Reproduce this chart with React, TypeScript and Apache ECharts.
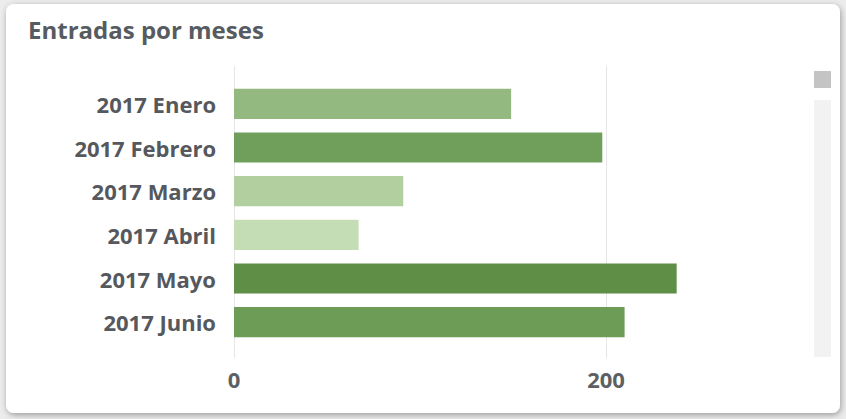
import React, { useEffect, useRef } from "react";
import * as echarts from "echarts";

const categories = ["2017 Enero", "2017 Febrero", "2017 Marzo", "2017 Abril", "2017 Mayo", "2017 Junio"];
const values = [149, 198, 91, 67, 238, 210];
const barColors = ["#93b981", "#6f9f5a", "#b2d09f", "#c5ddb5", "#5f8f47", "#6d9c57"];
const xTicks = [0, 200];

export default function App() {
  const ref = useRef<HTMLDivElement>(null);
  useEffect(() => {
    const chart = echarts.init(ref.current!, null, { renderer: "svg" });
    const font = "'Open Sans', 'Noto Sans', sans-serif";
    chart.setOption({
      animation: false,
      backgroundColor: "#ececec",
      graphic: [
        {
          type: "rect",
          shape: { x: 6, y: 4, width: 834, height: 409, r: 8 },
          style: { fill: "#ffffff", shadowBlur: 6, shadowColor: "rgba(0,0,0,0.35)", shadowOffsetX: 1, shadowOffsetY: 2 },
          z: -10,
        },
        {
          type: "text",
          left: 28,
          top: 17,
          style: { text: "Entradas por meses", fill: "#565b61", font: `bold 24px ${font}` },
        },
        {
          type: "rect",
          shape: { x: 814, y: 100, width: 17, height: 257 },
          style: { fill: "#f2f2f2" },
        },
        {
          type: "rect",
          shape: { x: 814, y: 71, width: 17, height: 17 },
          style: { fill: "#c4c4c4" },
        },
      ],
      grid: [
        { left: 234, right: 240, top: 82, bottom: 75, containLabel: false },
        { left: 234, right: 240, top: 66, bottom: 61, containLabel: false },
      ],
      xAxis: [
        {
          type: "value",
          gridIndex: 0,
          min: 0,
          max: 200,
          interval: 200,
          axisLine: { show: false },
          axisTick: { show: false },
          splitLine: { show: false },
          axisLabel: {
            color: "#5d5f63",
            fontWeight: "bold",
            fontSize: 22,
            fontFamily: font,
            margin: 24,
            formatter: (v: number) => (xTicks.includes(v) ? String(v) : ""),
          },
        },
        {
          type: "value",
          gridIndex: 1,
          min: 0,
          max: 200,
          interval: 200,
          axisLine: { show: false },
          axisTick: { show: false },
          axisLabel: { show: false },
          splitLine: { show: true, lineStyle: { color: "#e6e6e6", width: 1 } },
        },
      ],
      yAxis: [
        {
          type: "category",
          gridIndex: 0,
          inverse: true,
          data: categories,
          axisLine: { show: false },
          axisTick: { show: false },
          axisLabel: {
            color: "#55585d",
            fontWeight: "bold",
            fontSize: 22,
            fontFamily: font,
            margin: 18,
          },
        },
        {
          type: "category",
          gridIndex: 1,
          data: [],
          show: false,
        },
      ],
      series: [
        {
          type: "bar",
          xAxisIndex: 0,
          yAxisIndex: 0,
          data: values.map((v, i) => ({ value: v, itemStyle: { color: barColors[i] } })),
          barCategoryGap: "31%",
          clip: false,
          z: 3,
        },
      ],
    });
    return () => chart.dispose();
  }, []);
  return <div ref={ref} style={{ position: "fixed", left: 0, top: 0, width: 846, height: 419 }} />;
}
